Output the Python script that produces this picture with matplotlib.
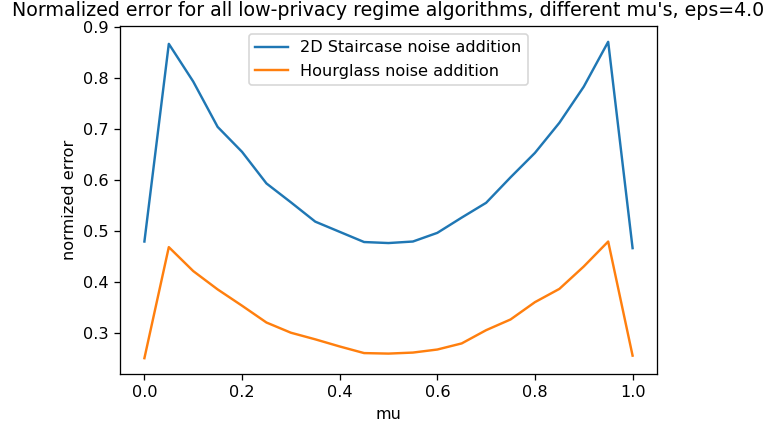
import matplotlib
matplotlib.use("Agg")
import matplotlib.pyplot as plt

mu = [0.0, 0.05, 0.1, 0.15, 0.2, 0.25, 0.3, 0.35, 0.4, 0.45, 0.5,
      0.55, 0.6, 0.65, 0.7, 0.75, 0.8, 0.85, 0.9, 0.95, 1.0]
staircase = [0.479, 0.867, 0.793, 0.704, 0.655, 0.593, 0.556, 0.518, 0.498, 0.478, 0.476,
             0.479, 0.496, 0.526, 0.555, 0.605, 0.653, 0.712, 0.783, 0.871, 0.466]
hourglass = [0.25, 0.468, 0.421, 0.385, 0.353, 0.320, 0.300, 0.287, 0.273, 0.260, 0.259,
             0.261, 0.267, 0.279, 0.305, 0.326, 0.360, 0.386, 0.430, 0.479, 0.255]

DPI = 116
fig = plt.figure(figsize=(771/DPI, 425/DPI), dpi=DPI)
ax = fig.add_axes([120/771, (425-374)/425, (657-120)/771, (374-26)/425])
ax.plot(mu, staircase, label="2D Staircase noise addition")
ax.plot(mu, hourglass, label="Hourglass noise addition")
ax.set_title("Normalized error for all low-privacy regime algorithms, different mu's, eps=4.0",
             fontsize=11.8)
ax.set_xlabel("mu")
ax.set_ylabel("normized error")
ax.legend(loc="upper center")
fig.savefig("out.png", dpi=DPI)
